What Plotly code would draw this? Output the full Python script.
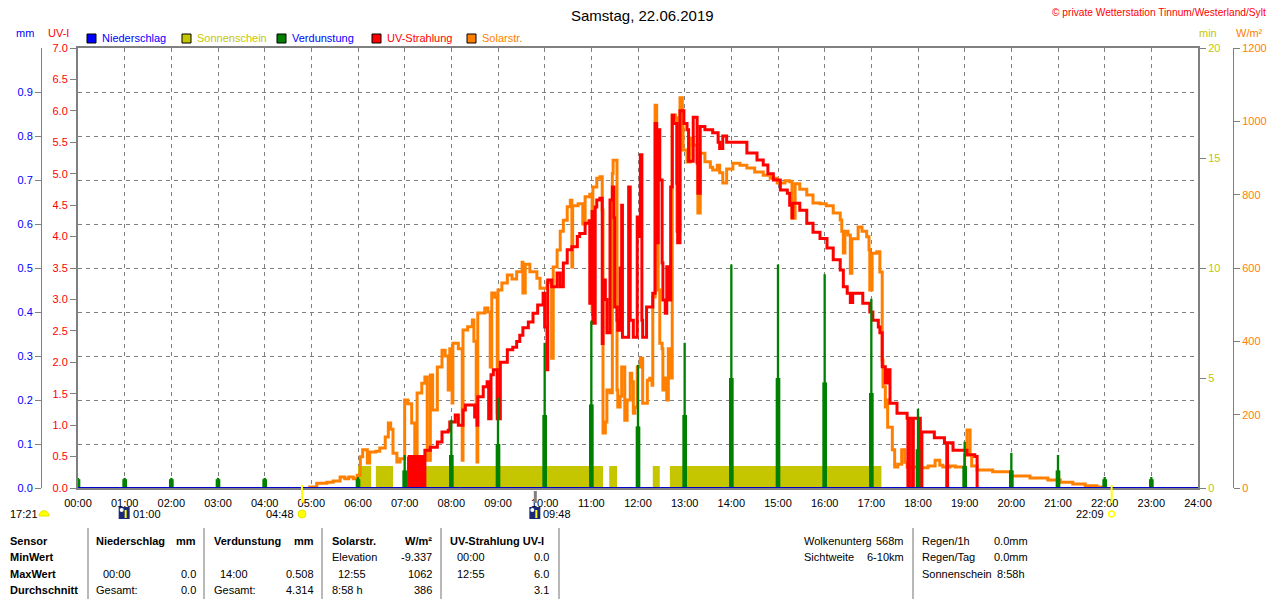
import plotly.graph_objects as go

# Tageswerte Samstag, 22.06.2019 - Wetterstation Tinnum/Westerland/Sylt
W, H = 1280, 600

# -----------------------------------------------------------------------------
# Data
# -----------------------------------------------------------------------------

# Solarstrahlung, W/m² (time in minutes after midnight)
solar_time = [296, 307, 320, 328, 337, 343, 348, 354, 359, 363,
              366, 372, 375, 383, 388, 395, 399, 402, 405, 410,
              414, 420, 424, 429, 433, 436, 442, 446, 449, 453,
              456, 462, 468, 472, 476, 478, 481, 482, 489, 494,
              495, 501, 507, 509, 512, 513, 514, 523, 527, 530,
              532, 536, 539, 540, 545, 552, 558, 564, 571, 572,
              575, 581, 590, 594, 603, 607, 609, 611, 616, 620,
              624, 629, 633, 635, 636, 643, 647, 649, 652, 658,
              661, 662, 667, 671, 674, 675, 678, 680, 684, 687,
              688, 692, 693, 694, 697, 699, 702, 703, 706, 707,
              710, 712, 714, 716, 719, 723, 725, 726, 732, 735,
              738, 739, 742, 744, 746, 748, 751, 752, 755, 757,
              759, 761, 764, 768, 770, 774, 777, 778, 783, 787,
              791, 796, 797, 800, 806, 813, 816, 822, 825, 829,
              834, 842, 851, 860, 870, 881, 890, 899, 909, 915,
              918, 922, 928, 937, 945, 954, 962, 971, 980, 982,
              984, 986, 990, 993, 995, 1003, 1008, 1014, 1017, 1018,
              1021, 1027, 1031, 1034, 1035, 1038, 1040, 1041, 1047, 1050,
              1054, 1059, 1063, 1066, 1076, 1083, 1093, 1102, 1108, 1112,
              1121, 1128, 1138, 1140, 1143, 1147, 1149, 1156, 1176, 1200,
              1224, 1247, 1263, 1279, 1295, 1310, 1317]
solar_wm2 = [3, 13, 16, 19, 30, 25, 30, 25, 35, 85,
             104, 68, 98, 100, 109, 139, 177, 160, 95, 71,
             80, 240, 230, 177, 85, 259, 286, 303, 76, 308,
             213, 330, 376, 360, 267, 380, 232, 395, 380, 76,
             431, 440, 458, 400, 232, 71, 477, 491, 480, 330,
             532, 520, 205, 540, 559, 581, 570, 590, 616, 532,
             610, 590, 572, 545, 562, 560, 354, 603, 649, 700,
             730, 767, 785, 603, 770, 775, 775, 720, 794, 801,
             485, 821, 845, 849, 758, 150, 180, 267, 260, 858,
             894, 894, 267, 221, 250, 330, 330, 185, 240, 240,
             313, 290, 204, 220, 330, 354, 354, 231, 294, 299,
             280, 521, 1044, 850, 540, 395, 380, 267, 300, 240,
             380, 300, 1017, 1010, 700, 1064, 1030, 922, 889, 954,
             935, 890, 750, 913, 890, 875, 867, 880, 860, 832,
             870, 886, 880, 873, 862, 853, 845, 832, 838, 835,
             736, 830, 815, 799, 777, 775, 770, 750, 731, 700,
             641, 700, 690, 586, 680, 712, 700, 685, 650, 540,
             640, 644, 589, 349, 276, 221, 240, 166, 104, 57,
             65, 104, 70, 57, 57, 55, 60, 76, 62, 57,
             60, 57, 57, 90, 158, 90, 60, 49, 44, 33,
             27, 22, 16, 11, 6, 3, 0]

# UV-Strahlung, UV-Index (minutes after midnight)
uv_time = [424, 425, 426, 427, 428, 429, 430, 431, 432, 433, 434,
           435, 436, 437, 438, 439, 440, 441, 442, 443, 444, 445,
           446, 453, 462, 468, 476, 478, 485, 489, 495, 498,
           504, 510, 513, 514, 521, 526, 528, 531, 534, 537,
           539, 543, 552, 559, 564, 568, 572, 579, 585, 591,
           598, 600, 603, 604, 609, 616, 620, 624, 629, 635,
           642, 645, 652, 657, 658, 661, 662, 665, 667, 671,
           674, 675, 678, 680, 684, 687, 689, 690, 693, 694,
           697, 699, 700, 704, 708, 710, 714, 719, 721, 723,
           725, 726, 731, 735, 739, 742, 744, 746, 748, 751,
           752, 755, 757, 759, 762, 764, 766, 770, 771, 774,
           779, 783, 785, 791, 794, 796, 797, 800, 806, 816,
           823, 825, 829, 834, 854, 860, 873, 881, 887, 894,
           903, 912, 915, 918, 919, 928, 937, 945, 954, 963,
           971, 980, 984, 989, 993, 996, 1005, 1009, 1018, 1022,
           1029, 1031, 1034, 1038, 1041, 1044, 1053, 1066, 1067, 1069,
           1073, 1074, 1083, 1085, 1099, 1101, 1114, 1117, 1118, 1125,
           1143, 1153, 1156]
uv_index = [0.5, 0, 0.5, 0, 0.5, 0, 0.5, 0, 0.5, 0, 0.5,
            0, 0.5, 0, 0.5, 0, 0.5, 0, 0.5, 0, 0.5, 0,
            0.6, 0.65, 0.73, 0.89, 0.92, 1.05, 1.16, 1.0, 1.24, 1.32,
            1.32, 1.13, 1.0, 1.45, 1.61, 1.69, 1.1, 1.8, 1.88, 1.88,
            1.1, 2.0, 2.2, 2.24, 2.33, 2.43, 2.55, 2.64, 2.78, 2.91,
            3.1, 2.56, 1.88, 3.31, 3.2, 3.42, 3.2, 3.58, 3.79, 3.84,
            4.0, 4.05, 4.21, 4.25, 2.94, 4.4, 2.62, 4.47, 4.58, 4.61,
            2.3, 3.31, 3.0, 2.47, 4.58, 4.79, 4.3, 2.88, 2.67, 2.51,
            3.5, 4.5, 2.4, 2.4, 4.79, 2.67, 2.4, 4.31, 4.0, 5.3,
            2.67, 2.4, 2.88, 2.88, 3.1, 5.8, 3.9, 5.7, 4.9, 3.58,
            2.99, 2.78, 3.52, 2.99, 4.79, 5.93, 5.8, 4.85, 3.9, 6.0,
            5.8, 5.7, 5.2, 5.9, 5.9, 5.17, 4.69, 5.75, 5.7, 5.65,
            5.5, 5.4, 5.6, 5.5, 5.5, 5.33, 5.22, 5.14, 5.0, 4.9,
            4.74, 4.69, 4.5, 4.3, 4.53, 4.42, 4.21, 4.07, 3.97, 3.82,
            3.63, 3.47, 3.2, 3.1, 2.95, 3.1, 3.1, 2.94, 2.8, 2.67,
            2.56, 2.47, 1.93, 1.67, 1.88, 1.35, 1.19, 1.11, 0, 1.11,
            0, 1.11, 0, 0.89, 0.89, 0.8, 0.72, 0, 0.72, 0.6,
            0.53, 0.5, 0]

# Verdunstung, mm (hourly)
verd_hours = list(range(24))
verd_mm = [0.023, 0.023, 0.023, 0.023, 0.023, 0, 0.025, 0.075, 0.155, 0.205,
           0.33, 0.38, 0.28, 0.33, 0.508, 0.508, 0.486, 0.43, 0.18, 0.105,
           0.08, 0.075, 0.025, 0.025]
verd_mm_low = [0.02, 0.02, 0.02, 0.02, 0.02, 0, 0.02, 0.04, 0.075, 0.1,
               0.166, 0.19, 0.14, 0.166, 0.25, 0.25, 0.24, 0.216, 0.088, 0.05,
               0.04, 0.04, 0.02, 0.02]

# Sonnenschein, intervals with sunshine (min per min)
sun_start = ["06:00", "06:23", "07:04", "11:23", "12:19", "12:41"]
sun_end = ["06:17", "06:45", "11:15", "11:33", "12:28", "17:13"]
sun_minutes = [1, 1, 1, 1, 1, 1]

# Niederschlag, mm
rain_time = [0, 24]
rain_mm = [0, 0]

# Astronomical events
sunrise, sunset = "04:48", "22:09"
day_length = "17:21"
moon_events = ["01:00", "09:48"]

hour_labels = [f"{h:02d}:00" for h in range(25)]

BLUE = "#0000ff"
OLIVE = "#c6c600"
GREEN = "#008000"
RED = "#ff0000"
ORANGE = "#ff8000"
GRAY = "#808080"
FONT = "Liberation Sans, Arial, sans-serif"


def fx(p):
    return p / W


def fy(p):
    return 1 - p / H


def hours(hhmm):
    h, m = hhmm.split(":")
    return int(h) + int(m) / 60


# -----------------------------------------------------------------------------
# Traces (axis order = drawing order: y, y2, y3, y4)
# -----------------------------------------------------------------------------
fig = go.Figure()

fig.add_bar(
    x=[(hours(a) + hours(b)) / 2 for a, b in zip(sun_start, sun_end)],
    width=[hours(b) - hours(a) for a, b in zip(sun_start, sun_end)],
    y=sun_minutes, yaxis="y", marker=dict(color=OLIVE, line_width=0),
    name="Sonnenschein", hoverinfo="skip",
)
fig.add_scatter(
    x=[t / 60 for t in solar_time], y=solar_wm2, yaxis="y2", mode="lines",
    line=dict(color=ORANGE, width=3, shape="hv", simplify=False),
    name="Solarstr.", hoverinfo="skip",
)
fig.add_scatter(
    x=[t / 60 for t in uv_time], y=uv_index, yaxis="y3", mode="lines",
    line=dict(color=RED, width=3, shape="hv", simplify=False),
    name="UV-Strahlung", hoverinfo="skip",
)
fig.add_bar(x=verd_hours, y=verd_mm_low, width=0.1, yaxis="y4",
            marker=dict(color=GREEN, line_width=0), hoverinfo="skip")
fig.add_bar(x=verd_hours, y=verd_mm, width=0.05, yaxis="y4",
            marker=dict(color=GREEN, line_width=0), name="Verdunstung", hoverinfo="skip")
fig.add_scatter(x=rain_time, y=rain_mm, yaxis="y4", mode="lines",
                line=dict(color="#0000c8", width=2), name="Niederschlag", hoverinfo="skip")

# -----------------------------------------------------------------------------
# Axes
# -----------------------------------------------------------------------------
dom_y = [fy(488), fy(48)]
tick_common = dict(ticks="outside", ticklen=6, tickcolor=GRAY, showline=True,
                   linecolor=GRAY, zeroline=False, showgrid=False, automargin=False)

fig.update_layout(
    width=W, height=H, margin=dict(l=0, r=0, t=0, b=0, autoexpand=False),
    paper_bgcolor="white", plot_bgcolor="white",
    showlegend=False, barmode="overlay", hovermode=False,
    font=dict(family=FONT, size=11, color="black"),
    xaxis=dict(
        domain=[fx(78), fx(1198)], range=[0, 24],
        tickvals=list(range(25)), ticktext=hour_labels,
        ticks="outside", ticklen=4, tickcolor="rgba(0,0,0,0)",
        showgrid=True, gridcolor=GRAY, gridwidth=1, griddash="4px,4px",
        showline=True, linecolor=GRAY, linewidth=2, mirror=True,
        zeroline=False, automargin=False, tickfont=dict(size=11, color="black"),
    ),
    yaxis=dict(  # Sonnenschein, min
        domain=dom_y, range=[0, 20], side="right", anchor="x",
        tickvals=[0, 5, 10, 15, 20], linewidth=2,
        tickfont=dict(size=11, color=OLIVE), **tick_common,
    ),
    yaxis2=dict(  # Solarstr., W/m²
        overlaying="y", range=[0, 1200], side="right", anchor="free",
        position=fx(1233), tickvals=list(range(0, 1201, 200)), linewidth=1,
        tickfont=dict(size=11, color=ORANGE), **tick_common,
    ),
    yaxis3=dict(  # UV-I
        overlaying="y", range=[0, 7], side="left", anchor="x",
        dtick=0.5, tickformat=".1f", linewidth=2,
        tickfont=dict(size=11, color=RED), **tick_common,
    ),
    yaxis4=dict(  # mm
        overlaying="y", range=[0, 1], side="left", anchor="free",
        position=fx(41), tickvals=[i / 10 for i in range(10)], tickformat=".1f",
        ticks="outside", ticklen=6, tickcolor=GRAY, showline=True,
        linecolor=GRAY, linewidth=1, zeroline=False, automargin=False,
        showgrid=True, gridcolor=GRAY, gridwidth=1, griddash="4px,4px",
        tickfont=dict(size=11, color=BLUE),
    ),
)

# -----------------------------------------------------------------------------
# Texts, legend, table
# -----------------------------------------------------------------------------
ann = []
shapes = []


def text(t, x, y, color="black", anchor="left", size=11, **kw):
    ann.append(dict(text=t, x=fx(x), y=fy(y), xref="paper", yref="paper",
                    xanchor=anchor, yanchor="middle", showarrow=False,
                    font=dict(size=size, color=color, family=FONT), **kw))


text("Samstag, 22.06.2019", 642, 15, anchor="center", size=15)
text("© private Wetterstation Tinnum/Westerland/Sylt", 1268, 12, RED, "right", size=10.2)
text("mm", 14, 33, BLUE)
text("UV-I", 46, 33, RED)
text("min", 1197, 33, OLIVE)
text("W/m²", 1234, 33, ORANGE)

legend_items = [("Niederschlag", BLUE, BLUE, 87), ("Sonnenschein", OLIVE, OLIVE, 182),
                ("Verdunstung", GREEN, BLUE, 277), ("UV-Strahlung", RED, RED, 372),
                ("Solarstr.", ORANGE, ORANGE, 467)]
for label, box, col, x0 in legend_items:
    shapes.append(dict(type="rect", xref="paper", yref="paper",
                       x0=fx(x0), x1=fx(x0 + 9), y0=fy(43), y1=fy(34),
                       fillcolor=box, line=dict(color="black", width=1)))
    text(label, x0 + 13, 38, col)

# sunrise / sunset / moon markers below the time axis
for t in (sunrise, sunset):
    shapes.append(dict(type="line", xref="x", yref="paper", x0=hours(t), x1=hours(t),
                       y0=fy(503), y1=fy(485), line=dict(color="#ffff00", width=2)))
shapes.append(dict(type="line", xref="x", yref="paper", x0=hours(moon_events[1]),
                   x1=hours(moon_events[1]), y0=fy(503), y1=fy(491),
                   line=dict(color=GRAY, width=3)))
shapes.append(dict(type="circle", xref="x", xsizemode="pixel", xanchor=hours(sunrise),
                   x0=-4, x1=4, yref="paper", ysizemode="pixel", yanchor=fy(514),
                   y0=-4, y1=4, fillcolor="#ffff00", line=dict(color="#e8e800", width=1)))
shapes.append(dict(type="circle", xref="x", xsizemode="pixel", xanchor=hours(sunset),
                   x0=-3, x1=3, yref="paper", ysizemode="pixel", yanchor=fy(514),
                   y0=-3, y1=3, line=dict(color="#ffff00", width=1.5)))
shapes.append(dict(type="path", xref="paper", xsizemode="pixel", xanchor=fx(44),
                   yref="paper", ysizemode="pixel", yanchor=fy(516),
                   path="M -5,0 C -5,7 5,7 5,0 Z", fillcolor="#ffff00",
                   line=dict(color="#e8e800", width=1)))
for t in moon_events:
    shapes.append(dict(type="rect", xref="x", xsizemode="pixel", xanchor=hours(t),
                       x0=-6, x1=5, yref="paper", ysizemode="pixel", yanchor=fy(513),
                       y0=-6, y1=6, fillcolor="#1a2a78", line_width=0))
    shapes.append(dict(type="circle", xref="x", xsizemode="pixel", xanchor=hours(t),
                       x0=-5, x1=-1, yref="paper", ysizemode="pixel", yanchor=fy(513),
                       y0=1, y1=5, fillcolor="white", line_width=0))
    shapes.append(dict(type="line", xref="x", xsizemode="pixel", xanchor=hours(t),
                       x0=1, x1=1, yref="paper", ysizemode="pixel", yanchor=fy(513),
                       y0=-5, y1=3, line=dict(color="#ffff00", width=2)))

text(day_length, 8, 514)
for t, side in ((moon_events[0], "left"), (moon_events[1], "left"),
                (sunrise, "right"), (sunset, "right")):
    ann.append(dict(text=t, x=hours(t), y=fy(514), xref="x", yref="paper",
                    xanchor=side, yanchor="middle", showarrow=False,
                    xshift=6 if side == "left" else -6,
                    font=dict(size=11, color="black", family=FONT)))

# summary table
table = [
    ("<b>Sensor</b>", 8, 541, "left"), ("<b>MinWert</b>", 8, 557, "left"),
    ("<b>MaxWert</b>", 8, 574, "left"), ("<b>Durchschnitt</b>", 8, 590, "left"),
    ("<b>Niederschlag</b>", 94, 541, "left"), ("<b>mm</b>", 198, 541, "right"),
    ("00:00", 101, 574, "left"), ("0.0", 198, 574, "right"),
    ("Gesamt:", 94, 590, "left"), ("0.0", 198, 590, "right"),
    ("<b>Verdunstung</b>", 212, 541, "left"), ("<b>mm</b>", 316, 541, "right"),
    ("14:00", 218, 574, "left"), ("0.508", 316, 574, "right"),
    ("Gesamt:", 212, 590, "left"), ("4.314", 316, 590, "right"),
    ("<b>Solarstr.</b>", 330, 541, "left"), ("<b>W/m²</b>", 434, 541, "right"),
    ("Elevation", 330, 557, "left"), ("-9.337", 434, 557, "right"),
    ("12:55", 336, 574, "left"), ("1062", 434, 574, "right"),
    ("8:58 h", 330, 590, "left"), ("386", 434, 590, "right"),
    ("<b>UV-Strahlung UV-I</b>", 448, 541, "left"),
    ("00:00", 455, 557, "left"), ("0.0", 551, 557, "right"),
    ("12:55", 455, 574, "left"), ("6.0", 551, 574, "right"),
    ("3.1", 551, 590, "right"),
    ("Wolkenunterg", 802, 541, "left"), ("568m", 906, 541, "right"),
    ("Sichtweite", 802, 557, "left"), ("6-10km", 906, 557, "right"),
    ("Regen/1h", 920, 541, "left"), ("0.0mm", 992, 541, "left"),
    ("Regen/Tag", 920, 557, "left"), ("0.0mm", 992, 557, "left"),
    ("Sonnenschein", 920, 574, "left"), ("8:58h", 995, 574, "left"),
]
for t, x, y, a in table:
    text(t, x, y, anchor=a)

for x in (88, 204, 322, 441, 559, 913):
    shapes.append(dict(type="line", xref="paper", yref="paper", x0=fx(x), x1=fx(x),
                       y0=fy(528), y1=fy(599), line=dict(color="#a0a0a0", width=1.5)))

fig.update_layout(annotations=ann, shapes=shapes)

# the page body has a default 8px margin; remove it so the figure fills the window
fig.write_html("out.html", config={"displayModeBar": False},
               post_script="document.body.style.margin = '0';")
